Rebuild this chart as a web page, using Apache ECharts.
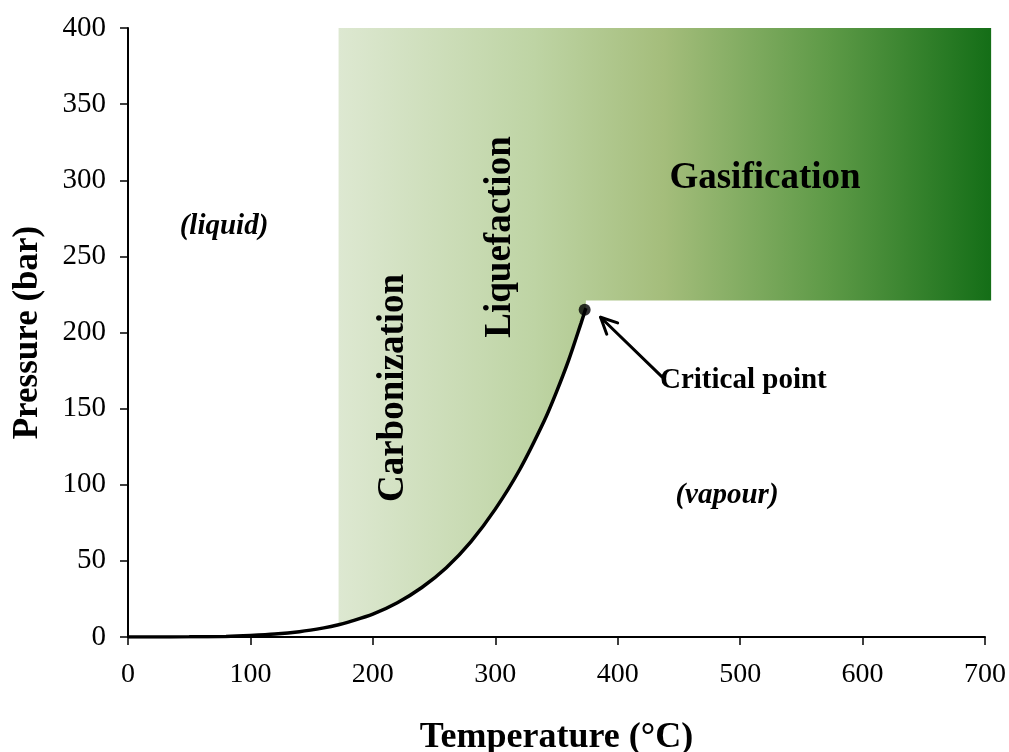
<!DOCTYPE html>
<html>
<head>
<meta charset="utf-8">
<script src="https://cdn.jsdelivr.net/npm/echarts@6/dist/echarts.min.js"></script>
<style>
  html, body { margin: 0; padding: 0; background: #fff; }
  #chart { width: 1009px; height: 752px; }
</style>
</head>
<body>
<div id="chart"></div>
<script>
// Saturation (vapour-pressure) curve: [temperature °C, pressure bar]
const curveT = [0, 20, 50, 80, 100, 120, 140, 160, 172, 180, 200, 220, 240, 260, 280, 300, 320, 340, 350, 360, 370, 374];
const curveP = [0.0, 0.0, 0.1, 0.4, 1.0, 1.9, 3.5, 6.0, 8.0, 9.8, 15.0, 22.5, 32.5, 45.5, 62.5, 84, 110, 142, 161, 182, 206, 216];
// Process region: starts at 172 °C, runs to 705 °C, up to 400 bar, flat lower edge at the critical pressure
const regionStartT = 172;
const regionEndT = 705;
const regionTopP = 400;
const regionFlatP = 221;
const criticalPoint = [373, 215];
const arrowFrom = [436, 171];
const arrowTo = [386, 210];
const xTicks = [0, 100, 200, 300, 400, 500, 600, 700];
const yTicks = [0, 50, 100, 150, 200, 250, 300, 350, 400];

const curveData = curveT.map((t, i) => [t, curveP[i]]);
const serif = '"Liberation Serif", "DejaVu Serif", serif';

const chart = echarts.init(document.getElementById('chart'));

const option = {
  animation: false,
  grid: { left: 128, right: 24, top: 28, bottom: 115, containLabel: false, outerBoundsMode: 'none' },
  xAxis: {
    type: 'value', min: 0, max: 700, interval: 100,
    name: 'Temperature (°C)', nameLocation: 'middle', nameGap: 83,
    nameTextStyle: { fontFamily: serif, fontSize: 36, fontWeight: 'bold', color: '#000' },
    axisLine: { show: true, onZero: false, lineStyle: { color: '#000', width: 2 } },
    axisTick: { show: true, inside: false, length: 8, lineStyle: { color: '#000', width: 1.5 } },
    axisLabel: { fontFamily: serif, fontSize: 28, color: '#000', margin: 24,
      formatter: v => xTicks.includes(v) ? String(v) : '' },
    splitLine: { show: false }
  },
  yAxis: {
    type: 'value', min: 0, max: 400, interval: 50,
    name: 'Pressure (bar)', nameLocation: 'middle', nameGap: 83, nameRotate: 90,
    nameTextStyle: { fontFamily: serif, fontSize: 35, fontWeight: 'bold', color: '#000' },
    axisLine: { show: true, lineStyle: { color: '#000', width: 2 } },
    axisTick: { show: true, inside: false, length: 8, lineStyle: { color: '#000', width: 1.5 } },
    axisLabel: { fontFamily: serif, fontSize: 29, color: '#000', margin: 22,
      formatter: v => yTicks.includes(v) ? String(v) : '' },
    splitLine: { show: false }
  },
  series: [
    {
      type: 'custom',
      clip: false,
      silent: true,
      z: 1,
      data: [[0]],
      renderItem: function (params, api) {
        const pts = [];
        pts.push(api.coord([regionStartT, regionTopP]));
        pts.push(api.coord([regionEndT, regionTopP]));
        pts.push(api.coord([regionEndT, regionFlatP]));
        pts.push(api.coord([curveT[curveT.length - 1], regionFlatP]));
        for (let i = curveT.length - 1; i >= 0; i--) {
          if (curveT[i] >= regionStartT) pts.push(api.coord([curveT[i], curveP[i]]));
        }
        return {
          type: 'polygon',
          shape: { points: pts, smooth: 0 },
          style: {
            fill: new echarts.graphic.LinearGradient(0, 0, 1, 0, [
              { offset: 0, color: '#dde8d1' },
              { offset: 0.3, color: '#bed4a4' },
              { offset: 0.5, color: '#a4bd7b' },
              { offset: 0.75, color: '#5e9a47' },
              { offset: 1, color: '#146e17' }
            ])
          }
        };
      }
    },
    {
      type: 'line',
      data: curveData,
      smooth: 0.3,
      symbol: 'none',
      z: 3,
      lineStyle: { color: '#000', width: 3.5 }
    },
    {
      type: 'scatter',
      data: [criticalPoint],
      symbol: 'circle',
      symbolSize: 12,
      z: 4,
      itemStyle: { color: '#000' }
    },
    {
      type: 'custom',
      clip: false,
      silent: true,
      z: 4,
      data: [[0]],
      renderItem: function (params, api) {
        const a = api.coord(arrowFrom);
        const b = api.coord(arrowTo);
        const ang = Math.atan2(a[1] - b[1], a[0] - b[0]);
        const len = 18, spread = 0.45;
        const h1 = [b[0] + len * Math.cos(ang + spread), b[1] + len * Math.sin(ang + spread)];
        const h2 = [b[0] + len * Math.cos(ang - spread), b[1] + len * Math.sin(ang - spread)];
        const st = { stroke: '#000', lineWidth: 3, fill: null, lineCap: 'round', lineJoin: 'round' };
        return {
          type: 'group',
          children: [
            { type: 'line', shape: { x1: a[0], y1: a[1], x2: b[0], y2: b[1] }, style: st },
            { type: 'polyline', shape: { points: [h1, b, h2] }, style: st }
          ]
        };
      }
    }
  ],
  graphic: [
    { type: 'text', z: 100, x: 224, y: 227, style: { text: '(liquid)', font: 'italic bold 29px ' + serif, fill: '#000', align: 'center', verticalAlign: 'middle' } },
    { type: 'text', z: 100, x: 727, y: 496, style: { text: '(vapour)', font: 'italic bold 29px ' + serif, fill: '#000', align: 'center', verticalAlign: 'middle' } },
    { type: 'text', z: 100, x: 765, y: 178, style: { text: 'Gasification', font: 'bold 37px ' + serif, fill: '#000', align: 'center', verticalAlign: 'middle' } },
    { type: 'text', z: 100, x: 660, y: 381, style: { text: 'Critical point', font: 'bold 29px ' + serif, fill: '#000', align: 'left', verticalAlign: 'middle' } },
    { type: 'text', z: 100, x: 393, y: 388, rotation: Math.PI / 2,
      style: { text: 'Carbonization', font: 'bold 37px ' + serif, fill: '#000', align: 'center', verticalAlign: 'middle' } },
    { type: 'text', z: 100, x: 500, y: 237, rotation: Math.PI / 2,
      style: { text: 'Liquefaction', font: 'bold 37px ' + serif, fill: '#000', align: 'center', verticalAlign: 'middle' } }
  ]
};

chart.setOption(option);
</script>
</body>
</html>
